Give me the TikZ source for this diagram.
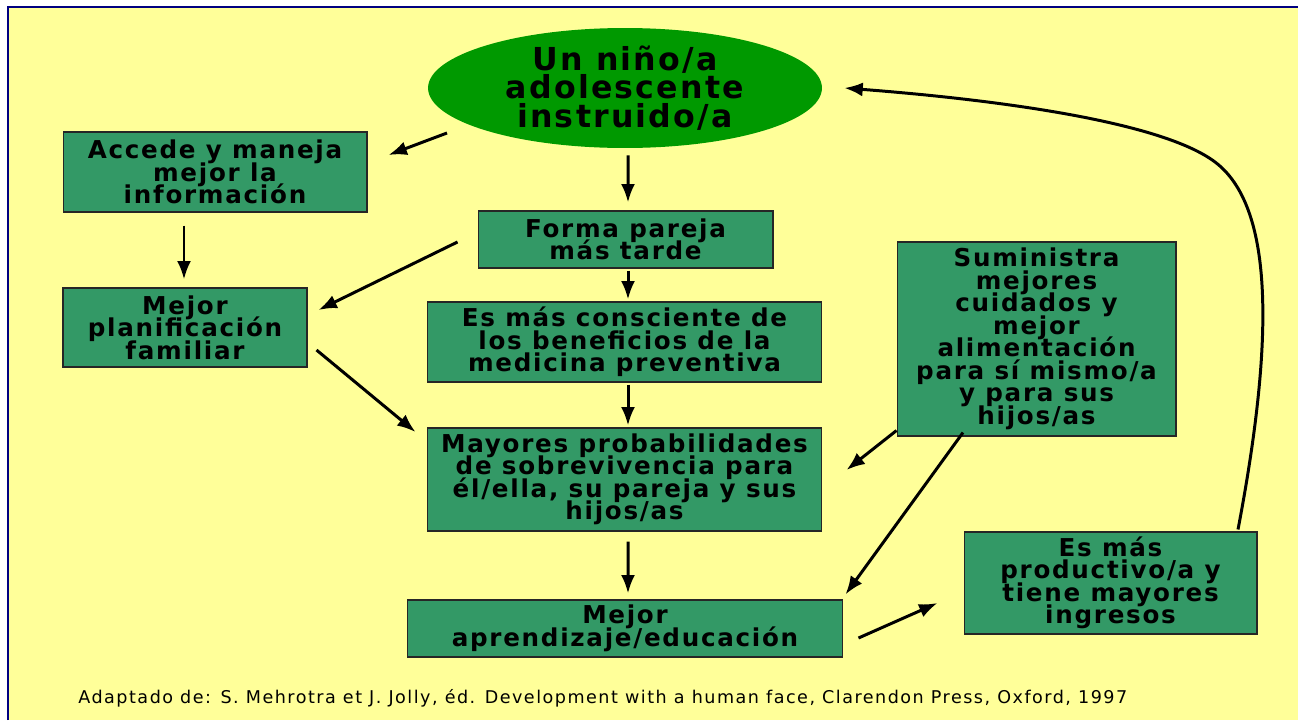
\documentclass[tikz,border=0pt]{standalone}
\usepackage{fontspec}
\setmainfont{DejaVu Sans}
\newfontfamily\spacedfont[LetterSpace=7]{DejaVu Sans}
\newfontfamily\notefont[LetterSpace=8.5]{DejaVu Sans}
\newcommand\tightlines{\lineskiplimit=-20pt\relax\lineskip=0pt\relax}
\usepackage{xcolor}
\usepackage{tikz}
\usetikzlibrary{calc}
\usetikzlibrary{shapes.geometric}
\usetikzlibrary{arrows.meta}
\tikzset{>={Latex[length=10.5pt,width=8pt]}}
\definecolor{paleyellow}{HTML}{FFFF99}
\definecolor{framenavy}{HTML}{000080}
\definecolor{ellgreen}{HTML}{009900}
\definecolor{boxgreen}{HTML}{339966}
\tikzset{
  box/.style={draw=black!85, line width=0.6pt, fill=boxgreen, align=center,
    inner sep=0pt, font=\spacedfont\bfseries\fontsize{14}{12.8}\selectfont\tightlines},
  link/.style={->, line width=1.7pt},
}

\begin{document}
\begin{tikzpicture}[x=0.02cm, y=-0.02cm]

		% page and its frame
		\useasboundingbox (0,0) rectangle (1298,720);
		\fill [paleyellow] (8,7) rectangle (1298,720);
		\draw [framenavy, line width=1pt] (8,720) -- (8,7) -- (1298,7);

		% the child at the top
		\node [ellipse, fill=ellgreen, minimum width=7.88cm, minimum height=2.4cm, inner sep=-3pt,
		  align=center, font=\spacedfont\bfseries\fontsize{18}{16.3}\selectfont\tightlines] (ell) at (625,88)
		  {Un niño/a\\adolescente\\instruido/a};

		% the boxes
		\node [box, minimum width=6.08cm, minimum height=1.6cm] (info) at (215,172)
		  {Accede y maneja\\mejor la\\información};
		\node [box, minimum width=4.88cm, minimum height=1.58cm] (plan) at (185,327.5)
		  {Mejor\\planificación\\familiar};
		\node [box, minimum width=5.9cm, minimum height=1.14cm] (pareja) at (625.5,239.5)
		  {Forma pareja\\más tarde};
		\node [box, minimum width=7.9cm, minimum height=1.6cm] (medic) at (624.5,342)
		  {Es más consciente de\\los beneficios de la\\medicina preventiva};
		\node [box, minimum width=7.9cm, minimum height=2.06cm] (sobrev) at (624.5,479.5)
		  {Mayores probabilidades\\de sobrevivencia para\\él/ella, su pareja y sus\\hijos/as};
		\node [box, minimum width=8.72cm, minimum height=1.14cm] (aprend) at (625,628.5)
		  {Mejor\\aprendizaje/educación};
		\node [box, minimum width=5.58cm, minimum height=3.88cm] (cuidado) at (1036.5,339)
		  {Suministra\\mejores\\cuidados y\\mejor\\alimentación\\para sí mismo/a\\y para sus\\hijos/as};
		\node [box, minimum width=5.86cm, minimum height=2.04cm] (ingreso) at (1110.5,583)
		  {Es más\\productivo/a y\\tiene mayores\\ingresos};

		% the arrows
		\draw [link] ([shift={(-178,45)}]ell.center) -- ([shift={(21,-17)}]info.east);
		\draw [link] ([shift={(3,7)}]ell.south) -- ([shift={(2.5,-8)}]pareja.north);
		\draw [link] ([shift={(-31,13)}]info.south) -- ([shift={(-1,-8)}]plan.north);
		\draw [link] ([shift={(-20,2.5)}]pareja.west) -- ([shift={(11,-17.5)}]plan.east);
		\draw [link] ([shift={(2.5,2)}]pareja.south) -- ([shift={(3.5,-2)}]medic.north);
		\draw [link] ([shift={(3.5,2)}]medic.south) -- ([shift={(3.5,-2)}]sobrev.north);
		\draw [link] ([shift={(9,22.5)}]plan.east) -- ([shift={(-11,-47.5)}]sobrev.west);
		\draw [link] ([shift={(0,-6)}]cuidado.south west) -- ([shift={(24,-9.5)}]sobrev.east);
		\draw [link] ([shift={(-73.5,-4)}]cuidado.south) -- ([shift={(2,-5)}]aprend.north east);
		\draw [link] ([shift={(3.5,10)}]sobrev.south) -- ([shift={(3,-6)}]aprend.north);
		\draw [link] ([shift={(15,9.5)}]aprend.east) -- ([shift={(-26,20)}]ingreso.west);

		% back to the top
		\draw [link] ([shift={(127.5,-2)}]ingreso.north)
		  .. controls (1276,330) and (1272,205) .. (1215,162)
		  .. controls (1162,122) and (1000,100) .. ([shift={(22,0)}]ell.east);

		% source
		\node [anchor=base west, inner sep=0pt, font=\notefont\fontsize{10}{12}\selectfont] (fuente) at (78,703)
		  {Adaptado de: S. Mehrotra et J. Jolly, éd. Development with a human face, Clarendon Press, Oxford, 1997};

	\end{tikzpicture}
\end{document}
